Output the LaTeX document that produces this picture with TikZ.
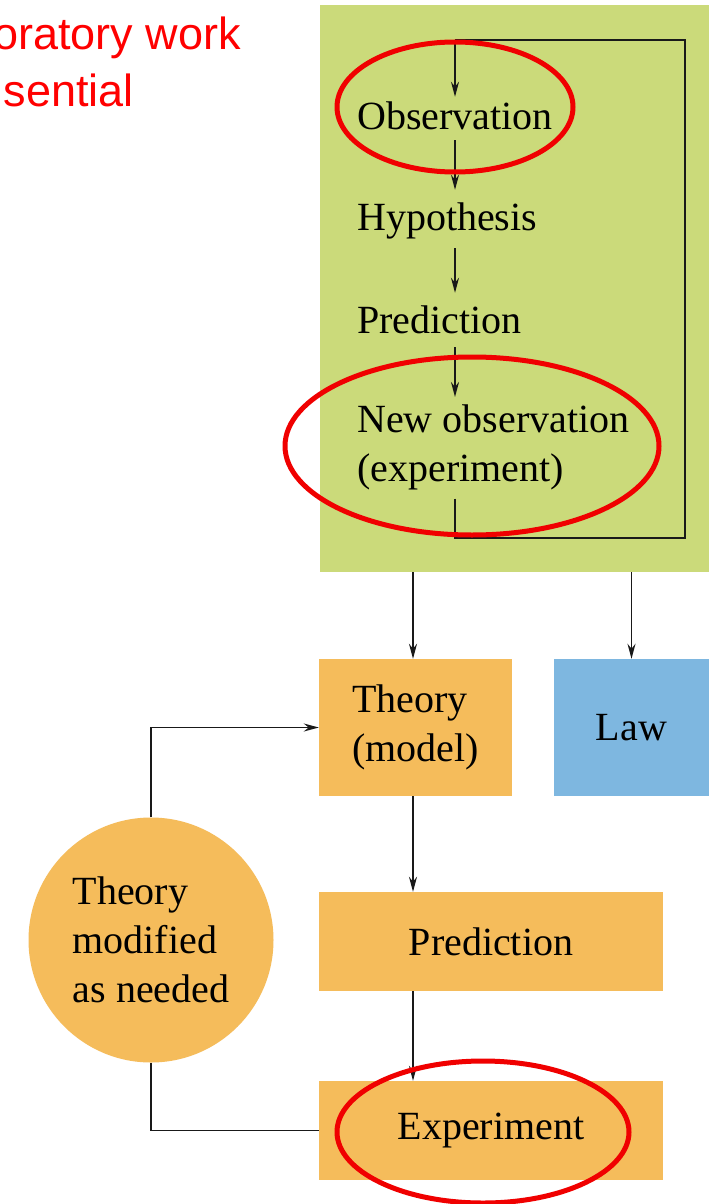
\documentclass[tikz,border=0pt]{standalone}
\usepackage{fontspec}
\setmainfont{Liberation Serif}
\newfontfamily\arialf{Liberation Sans}
\usetikzlibrary{arrows.meta,calc}
\definecolor{boxgreen}{RGB}{203,218,122}
\definecolor{boxorange}{RGB}{245,188,91}
\definecolor{boxblue}{RGB}{126,183,224}
\definecolor{markred}{RGB}{240,0,0}
\tikzset{
  lbl/.style={font=\fontsize{40}{49}\selectfont, inner sep=0pt, text height=30pt, text depth=10pt, anchor=base west},
  flowbox/.style={font=\fontsize{40}{49}\selectfont, inner sep=0pt, draw=none},
  conn/.style={line width=1.8pt, draw=black!90, -{Stealth[length=15pt,width=8pt]}},
  plain/.style={line width=1.8pt, draw=black!90},
  redring/.style={draw=markred, line width=5pt},
  note/.style={font=\arialf\fontsize{45}{54}\selectfont, text=red, inner sep=0pt, anchor=base east}
}
\begin{document}
\begin{tikzpicture}[x=1pt,y=-1pt]
\clip (0,0) rectangle (709,1204);
\fill[white] (0,0) rectangle (709,1204);
% red note
\node[note] (n1) at (241,50) {oratory work};
\node[note] (n2) at (134,107) {sential};
% green panel
\node[fill=boxgreen, minimum width=389pt, minimum height=567pt, anchor=north west, inner sep=0pt] (gbox) at (320,5) {};
\coordinate (ax) at (455,0);
\node[lbl] (obs) at (357,130) {Observation};
\node[lbl] (hyp) at (357,230) {Hypothesis};
\node[lbl] (pre) at (357,333) {Prediction};
\node[font=\fontsize{40}{49}\selectfont, inner sep=0pt, align=left, anchor=north west] (newobs) at (357,405) {New observation\\(experiment)};
\draw[conn, shorten >=10pt] (obs.south -| ax) -- (hyp.north -| ax);
\draw[conn, shorten <=8pt, shorten >=10pt] (hyp.south -| ax) -- (pre.north -| ax);
\draw[conn, shorten <=4pt, shorten >=8pt] (pre.south -| ax) -- (newobs.north -| ax);
\coordinate (lb) at (685,538);
\coordinate (lt) at (685,40);
\draw[plain] ($(newobs.south -| ax)+(0,8)$) -- (ax |- lb) -- (lb) -- (lt) -- (ax |- lt);
\draw[conn, shorten >=3pt] (ax |- lt) -- (obs.north -| ax);
% lower boxes
\node[flowbox, fill=boxorange, minimum width=193pt, minimum height=137pt, align=left] (theory) at (415.5,727.5) {Theory\\(model)};
\node[flowbox, fill=boxblue, minimum width=156pt, minimum height=137pt] (law) at (631.5,727.5) {Law};
\node[flowbox, fill=boxorange, minimum width=344pt, minimum height=99pt] (pred) at (491,941.5) {Prediction};
\node[flowbox, fill=boxorange, minimum width=344pt, minimum height=99pt] (exp) at (491,1130.5) {Experiment};
\node[flowbox, fill=boxorange, circle, minimum size=245pt, align=left] (circ) at (151,940) {Theory\\modified\\as needed};
\coordinate (tx) at (413,0);
\draw[conn] (gbox.south -| tx) -- (tx |- theory.north);
\draw[conn] (gbox.south -| law.north) -- (law.north);
\draw[conn] (tx |- theory.south) -- (tx |- pred.north);
\draw[conn] (tx |- pred.south) -- (tx |- exp.north);
\draw[plain] (exp.west) -| (circ.south);
\draw[conn] (circ.north) |- (theory.west);
% red marks
\draw[redring] (455,107) ellipse [x radius=118, y radius=65];
\draw[redring] (472,446) ellipse [x radius=187, y radius=89];
\draw[redring] (483,1132) ellipse [x radius=146, y radius=71];
\end{tikzpicture}
\end{document}
